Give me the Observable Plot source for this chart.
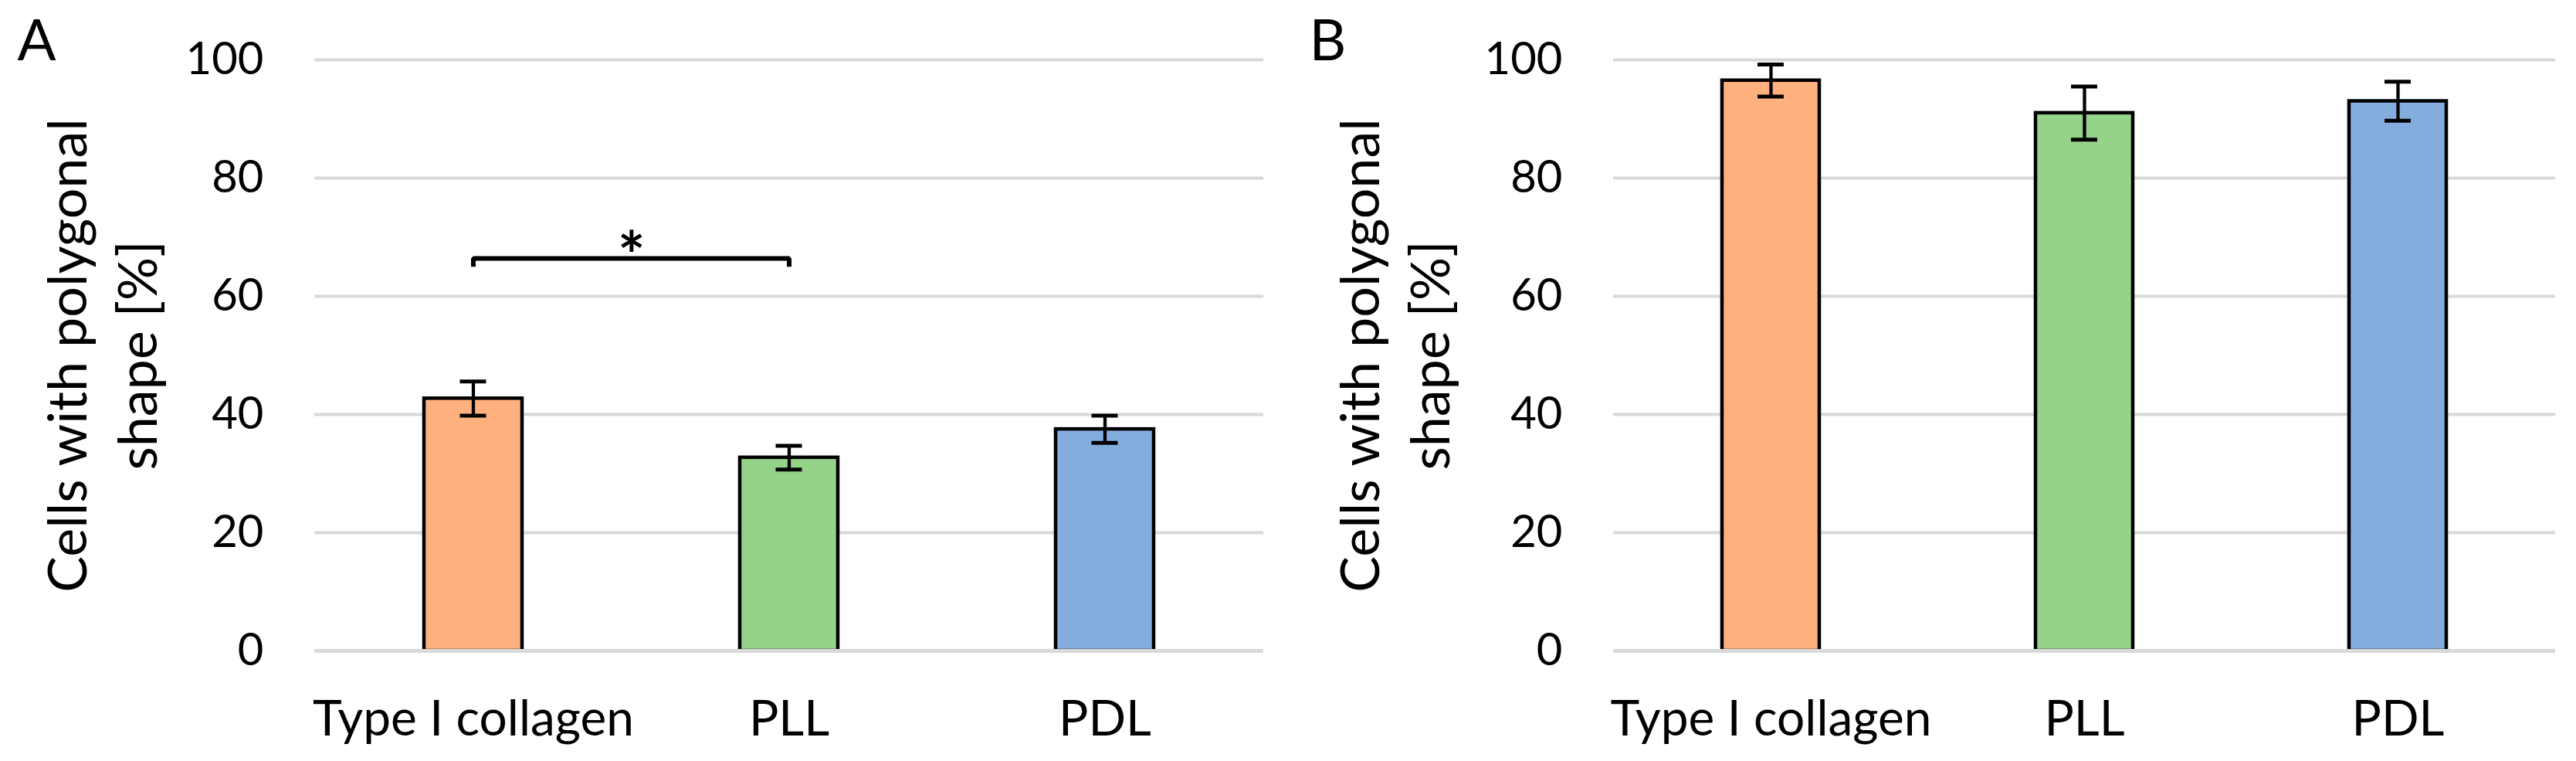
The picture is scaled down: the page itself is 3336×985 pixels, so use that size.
<!DOCTYPE html>
<html>
<head>
<meta charset="utf-8">
<script src="https://cdn.jsdelivr.net/npm/d3@7"></script>
<script src="https://cdn.jsdelivr.net/npm/@observablehq/plot@0.6"></script>
<style>
  html, body { margin: 0; padding: 0; background: #ffffff; }
  #fig { position: relative; width: 3336px; height: 985px; background: #ffffff; }
  .panel { position: absolute; top: 0; }
</style>
</head>
<body>
<div id="fig"></div>
<script>
// ---- data ----
const categories = ["Type I collagen", "PLL", "PDL"];
const meanA = [42.7, 32.7, 37.5];
const errA  = [2.9, 2.0, 2.3];
const meanB = [96.5, 91.0, 93.0];
const errB  = [2.7, 4.5, 3.3];
const yTicks = [0, 20, 40, 60, 80, 100];
const panelLetters = ["A", "B"];
const yTitle = "Cells with polygonal\nshape [%]";
// significance bracket in panel A (between Type I collagen and PLL)
const bracketX = ["Type I collagen", "Type I collagen", "PLL", "PLL"];
const bracketY = [65.0, 66.4, 66.4, 65.0];
const bracketLabel = "*";
const barColors = ["#FFB07F", "#95D28A", "#84ADDE"];

// ---- layout ----
const H = 985, W = 1668;
const MT = 77, MB = 143;
const padInner = 0.69;
const capWidth = 34;
const font = "Lato, 'Open Sans', sans-serif";

function makePanel({letter, means, errs, marginLeft, marginRight, titleDx, letterDx, bracket}) {
  const rows = categories.map((c, i) => ({cat: c, mean: means[i], lo: means[i] - errs[i], hi: means[i] + errs[i]}));
  const step = (W - marginLeft - marginRight) / categories.length;
  const bw = step * (1 - padInner);
  const capInset = (bw - capWidth) / 2;
  const marks = [
    Plot.gridY(yTicks, {stroke: "#d9d9d9", strokeOpacity: 1, strokeWidth: 4}),
    Plot.barY(rows, {x: "cat", y: "mean", fill: "cat", stroke: "#000", strokeWidth: 4.5}),
    Plot.ruleY([0], {stroke: "#d9d9d9", strokeWidth: 5}),
    Plot.ruleX(rows, {x: "cat", y1: "lo", y2: "hi", stroke: "#000", strokeWidth: 4.3}),
    Plot.tickY(rows, {x: "cat", y: "lo", stroke: "#000", strokeWidth: 5, insetLeft: capInset, insetRight: capInset}),
    Plot.tickY(rows, {x: "cat", y: "hi", stroke: "#000", strokeWidth: 5, insetLeft: capInset, insetRight: capInset}),
    Plot.axisY({ticks: yTicks, tickSize: 0, tickPadding: 66, fontSize: 58, label: null, fill: "#000"}),
    Plot.axisX({tickSize: 0, tickPadding: 64, fontSize: 64, label: null, fill: "#000"}),
    Plot.text([yTitle], {text: d => d, frameAnchor: "left", rotate: -90, dx: titleDx, fontSize: 70,
      lineHeight: 1.3, lineAnchor: "middle", textAnchor: "middle", fill: "#000"}),
    Plot.text([letter], {text: d => d, frameAnchor: "top-left", dx: letterDx, dy: 25 - MT, fontSize: 74,
      lineAnchor: "top", textAnchor: "start", fill: "#000"})
  ];
  if (bracket) {
    const pts = bracketX.map((x, i) => ({x, y: bracketY[i]}));
    marks.push(Plot.line(pts, {x: "x", y: "y", stroke: "#000", strokeWidth: 6, strokeLinejoin: "miter", strokeLinecap: "butt"}));
    marks.push(Plot.text([bracketLabel], {text: d => d, x: () => bracketX[0], y: () => bracketY[1], dx: step / 2,
      fontSize: 84, fontWeight: "bold", lineAnchor: "middle", textAnchor: "middle", fill: "#000"}));
  }
  return Plot.plot({
    width: W, height: H,
    marginLeft, marginRight, marginTop: MT, marginBottom: MB,
    style: {fontFamily: font, background: "#ffffff", color: "#000", overflow: "visible"},
    x: {type: "band", domain: categories, paddingInner: padInner, paddingOuter: padInner / 2},
    y: {domain: [0, 100], nice: false},
    color: {domain: categories, range: barColors},
    marks
  });
}

const fig = document.getElementById("fig");
const pA = makePanel({letter: panelLetters[0], means: meanA, errs: errA, marginLeft: 407, marginRight: 32, titleDx: -279, letterDx: -385, bracket: true});
const pB = makePanel({letter: panelLetters[1], means: meanB, errs: errB, marginLeft: 421, marginRight: 27, titleDx: -287, letterDx: -394, bracket: false});
pA.classList.add("panel"); pA.style.left = "0px";
pB.classList.add("panel"); pB.style.left = W + "px";
fig.appendChild(pA);
fig.appendChild(pB);
</script>
</body>
</html>
